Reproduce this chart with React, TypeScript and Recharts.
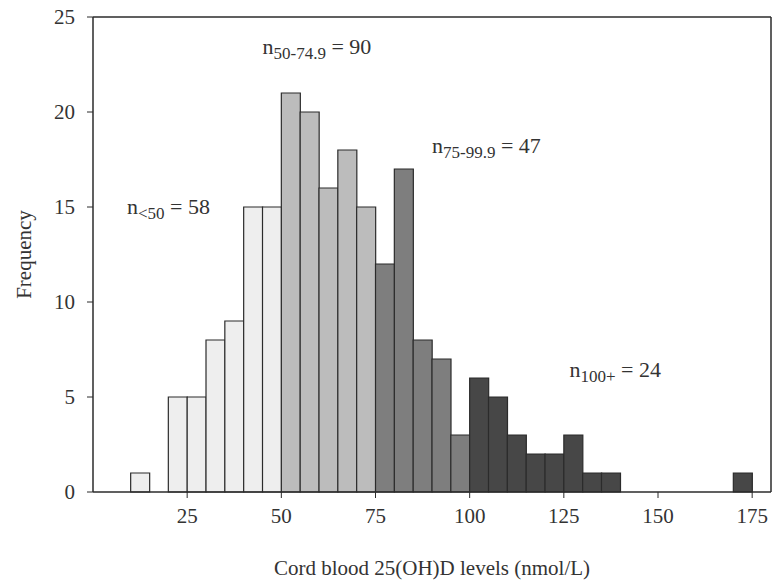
import React from 'react';
import {
  BarChart, Bar, XAxis, YAxis, Cell, ReferenceLine, ReferenceDot, Label
} from 'recharts';

// ── Histogram data (bin start, nmol/L; bins are 5 wide) ─────
const binStarts = [
  10, 15, 20, 25, 30, 35, 40, 45, 50, 55, 60, 65, 70, 75, 80, 85, 90, 95,
  100, 105, 110, 115, 120, 125, 130, 135, 140, 145, 150, 155, 160, 165, 170,
];
const frequencies = [
  1, 0, 5, 5, 8, 9, 15, 15, 21, 20, 16, 18, 15, 12, 17, 8, 7, 3,
  6, 5, 3, 2, 2, 3, 1, 1, 0, 0, 0, 0, 0, 0, 1,
];
const binWidth = 5;

// group cut points and their fills
const groupLimits = [50, 75, 100, Infinity];
const groupFills = ['#eeeeee', '#bcbcbc', '#7e7e7e', '#474747'];

const xTicks = [25, 50, 75, 100, 125, 150, 175];
const yTicks = [0, 5, 10, 15, 20, 25];

// annotations: subscript, suffix, anchor in data coords
const notes = [
  { sub: '<50', rest: ' = 58', x: 9, y: 15 },
  { sub: '50-74.9', rest: ' = 90', x: 45, y: 23.4 },
  { sub: '75-99.9', rest: ' = 47', x: 90, y: 18.2 },
  { sub: '100+', rest: ' = 24', x: 126.5, y: 6.4 },
];

const data = binStarts.map((s, i) => ({ mid: s + binWidth / 2, start: s, count: frequencies[i] }));

const fillFor = (start: number) => groupFills[groupLimits.findIndex((l) => start < l)];

const FONT = '"Liberation Serif", "DejaVu Serif", serif';
const INK = '#2b2b2b';

const NoteLabel = (sub: string, rest: string) => (props: { viewBox?: { cx?: number; cy?: number; x?: number; y?: number } }) => {
  const vb = props.viewBox || {};
  const x = vb.cx ?? vb.x ?? 0;
  const y = vb.cy ?? vb.y ?? 0;
  return (
    <text x={x} y={y + 7} fontFamily={FONT} fontSize={22} fill="#333">
      <tspan>n</tspan>
      <tspan fontSize={17} dy={5}>{sub}</tspan>
      <tspan dy={-5}>{rest}</tspan>
    </text>
  );
};

export default function App() {
  return (
    <div style={{ position: 'fixed', left: 0, top: 0, width: 774, height: 587, background: '#fff' }}>
      <BarChart
        width={774}
        height={587}
        data={data}
        margin={{ top: 17, right: 3, left: 0, bottom: 0 }}
        barCategoryGap={0}
        barGap={0}
      >
        <XAxis
          dataKey="mid"
          type="number"
          domain={[0, 180]}
          ticks={xTicks}
          height={95}
          tick={{ fontSize: 21, fontFamily: FONT, fill: '#333' }}
          tickSize={6}
          tickMargin={10}
          tickLine={{ stroke: INK }}
          axisLine={{ stroke: INK, strokeWidth: 1.5 }}
        >
          <Label
            value="Cord blood 25(OH)D levels (nmol/L)"
            position="insideBottom"
            offset={12}
            style={{ fontSize: 21, fontFamily: FONT, fill: '#333' }}
          />
        </XAxis>
        <YAxis
          type="number"
          domain={[0, 25]}
          ticks={yTicks}
          width={93}
          tick={{ fontSize: 21, fontFamily: FONT, fill: '#333' }}
          tickSize={6}
          tickMargin={12}
          tickLine={{ stroke: INK }}
          axisLine={{ stroke: INK, strokeWidth: 1.5 }}
        >
          <Label
            value="Frequency"
            angle={-90}
            position="insideLeft"
            offset={24}
            style={{ fontSize: 21, fontFamily: FONT, fill: '#333', textAnchor: 'middle' }}
          />
        </YAxis>
        <ReferenceLine y={25} stroke={INK} strokeWidth={1.5} />
        <ReferenceLine x={180} stroke={INK} strokeWidth={1.5} />
        <Bar dataKey="count" stroke={INK} strokeWidth={1.2} isAnimationActive={false}>
          {data.map((d) => (
            <Cell key={d.start} fill={fillFor(d.start)} />
          ))}
        </Bar>
        {notes.map((n) => (
          <ReferenceDot
            key={n.sub}
            x={n.x}
            y={n.y}
            r={0}
            stroke="none"
            fill="none"
            label={NoteLabel(n.sub, n.rest)}
          />
        ))}
      </BarChart>
    </div>
  );
}
